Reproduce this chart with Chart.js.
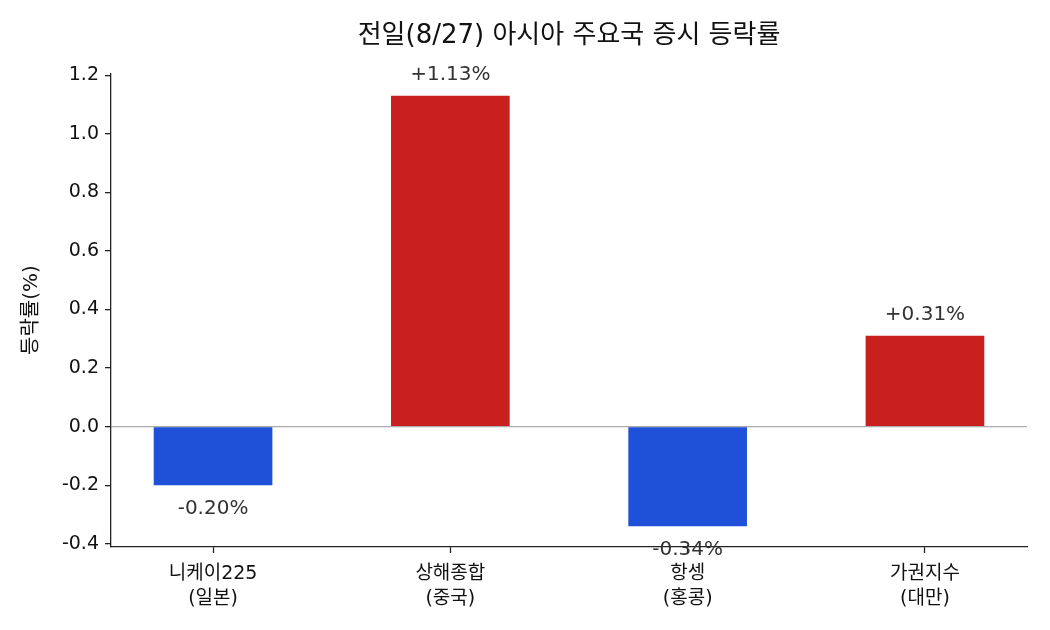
<!DOCTYPE html>
<html>
<head>
<meta charset="utf-8">
<script src="https://cdn.jsdelivr.net/npm/chart.js@4"></script>
<style>
  body { margin: 0; background: #fff; }
  #wrap { width: 1050px; height: 630px; }
</style>
</head>
<body>
<div id="wrap"><canvas id="myChart" width="1050" height="630"></canvas></div>
<script>
// chart data
var indexNames = ["니케이225", "상해종합", "항셍", "가권지수"];
var countries = ["(일본)", "(중국)", "(홍콩)", "(대만)"];
var changes = [-0.20, 1.13, -0.34, 0.31];
var yTicks = [-0.4, -0.2, 0.0, 0.2, 0.4, 0.6, 0.8, 1.0, 1.2];

var FONT = "'DejaVu Sans', 'Noto Sans CJK KR', sans-serif";
var red = '#C91F1F';
var blue = '#1E50D8';

var points = changes.map(function (v, i) { return { x: i, y: v }; });

// value labels on the bars
var barLabels = {
  id: 'barLabels',
  afterDatasetsDraw: function (chart) {
    var ctx = chart.ctx;
    var meta = chart.getDatasetMeta(0);
    ctx.save();
    ctx.font = '20px ' + FONT;
    ctx.fillStyle = '#333';
    ctx.textAlign = 'center';
    ctx.textBaseline = 'middle';
    meta.data.forEach(function (bar, i) {
      var v = changes[i];
      var txt = (v >= 0 ? '+' : '') + v.toFixed(2) + '%';
      var y = v >= 0 ? bar.y - 21 : bar.y + 24;
      ctx.fillText(txt, bar.x, y);
    });
    ctx.restore();
  }
};

var config = {
  type: 'bar',
  data: {
    datasets: [{
      data: points,
      backgroundColor: changes.map(function (v) { return v >= 0 ? red : blue; }),
      borderWidth: 0,
      barPercentage: 0.5,
      categoryPercentage: 1.0
    }]
  },
  options: {
    responsive: false,
    animation: false,
    layout: { padding: { left: 0, right: 23, top: 0, bottom: 0 } },
    plugins: {
      legend: { display: false },
      tooltip: { enabled: false },
      title: {
        display: true,
        fullSize: false,
        text: '전일(8/27) 아시아 주요국 증시 등락률',
        color: '#111',
        font: { family: FONT, size: 26, weight: 'normal', lineHeight: 1.2 },
        padding: { top: 21, bottom: 21 }
      }
    },
    scales: {
      x: {
        type: 'linear',
        offset: false,
        min: -0.43,
        max: 3.43,
        afterBuildTicks: function (axis) {
          axis.ticks = indexNames.map(function (n, i) { return { value: i }; });
        },
        afterFit: function (axis) { axis.height = 83; },
        ticks: {
          autoSkip: false,
          maxRotation: 0,
          padding: 8,
          color: '#111',
          font: { family: FONT, size: 19, lineHeight: 1.35 },
          callback: function (v) {
            return [indexNames[v], countries[v]];
          }
        },
        grid: { offset: false, drawOnChartArea: false, tickLength: 6, tickColor: '#222', tickWidth: 1.3 },
        border: { color: '#222', width: 1.3 }
      },
      y: {
        min: -0.411,
        max: 1.207,
        afterBuildTicks: function (axis) {
          axis.ticks = yTicks.map(function (v) { return { value: v }; });
        },
        afterFit: function (axis) { axis.width = 111; },
        ticks: {
          padding: 6,
          color: '#111',
          font: { family: FONT, size: 19 },
          callback: function (v) { return v.toFixed(1); }
        },
        grid: {
          drawOnChartArea: true,
          tickLength: 6,
          tickColor: '#222',
          tickWidth: 1.3,
          lineWidth: 1.3,
          color: function (c) {
            return (c.tick && Math.abs(c.tick.value) < 1e-9) ? '#aaaaaa' : 'rgba(0,0,0,0)';
          }
        },
        border: { color: '#222', width: 1.3 },
        title: {
          display: true,
          text: '등락률(%)',
          color: '#111',
          font: { family: FONT, size: 20 },
          padding: { top: 20, bottom: 0 }
        }
      }
    }
  },
  plugins: [barLabels]
};

var myChart = new Chart(document.getElementById('myChart'), config);
</script>
</body>
</html>
